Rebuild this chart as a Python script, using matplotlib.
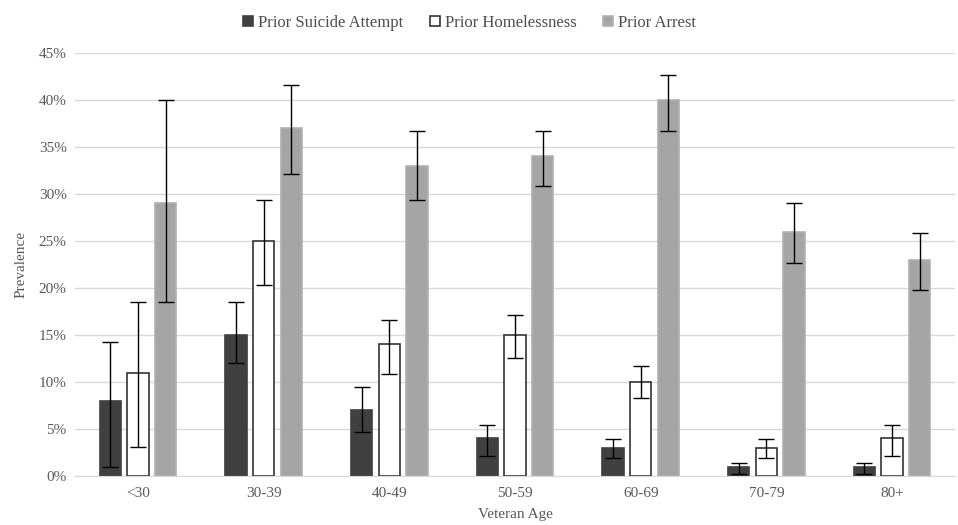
import matplotlib.pyplot as plt
import numpy as np
from matplotlib.ticker import PercentFormatter

ages = ["<30", "30-39", "40-49", "50-59", "60-69", "70-79", "80+"]

suicide = [8, 15, 7, 4, 3, 1, 1]
suicide_lo = [1.0, 12.0, 4.7, 2.1, 1.9, 0.2, 0.2]
suicide_hi = [14.3, 18.5, 9.5, 5.4, 3.9, 1.4, 1.4]

homeless = [11, 25, 14, 15, 10, 3, 4]
homeless_lo = [3.1, 20.3, 10.9, 12.6, 8.3, 1.9, 2.1]
homeless_hi = [18.5, 29.4, 16.6, 17.1, 11.7, 3.9, 5.4]

arrest = [29, 37, 33, 34, 40, 26, 23]
arrest_lo = [18.5, 32.1, 29.4, 30.8, 36.7, 22.7, 19.8]
arrest_hi = [40.0, 41.6, 36.7, 36.7, 42.7, 29.0, 25.9]

plt.rcParams["font.family"] = ["Liberation Serif", "DejaVu Serif"]
text_color = "#595959"

fig = plt.figure(figsize=(9.58, 5.25), dpi=100)
ax = fig.add_axes([75 / 958, 49 / 525, 880 / 958, 423 / 525])

x = np.arange(len(ages))
width = 0.17
step = 0.22

series = [
    ("Prior Suicide Attempt", suicide, suicide_lo, suicide_hi, "#404040", "#404040"),
    ("Prior Homelessness", homeless, homeless_lo, homeless_hi, "white", "#333333"),
    ("Prior Arrest", arrest, arrest_lo, arrest_hi, "#a5a5a5", "#b0b0b0"),
]

for i, (name, vals, lo, hi, face, edge) in enumerate(series):
    pos = x + (i - 1) * step
    vals = np.array(vals)
    err = [vals - np.array(lo), np.array(hi) - vals]
    ax.bar(pos, vals, width, color=face, edgecolor=edge, linewidth=1.2,
           label=name, zorder=2)
    ax.errorbar(pos, vals, yerr=err, fmt="none", ecolor="black",
                elinewidth=1.0, capsize=6, capthick=1.0, zorder=3)

ax.set_ylim(0, 45)
ax.set_xlim(-0.5, len(ages) - 0.5)
ax.set_yticks(np.arange(0, 46, 5))
ax.yaxis.set_major_formatter(PercentFormatter(decimals=0))
ax.set_xticks(x)
ax.set_xticklabels(ages)
ax.grid(axis="y", color="#d9d9d9", linewidth=1.0, zorder=0)
ax.set_axisbelow(True)

for side in ["top", "right", "left"]:
    ax.spines[side].set_visible(False)
ax.spines["bottom"].set_color("#d9d9d9")
ax.tick_params(axis="both", length=0, labelsize=11, colors=text_color)
ax.tick_params(axis="x", pad=8)
ax.tick_params(axis="y", pad=6)

ax.set_xlabel("Veteran Age", fontsize=11, color=text_color, labelpad=6)
ax.set_ylabel("Prevalence", fontsize=11, color=text_color, labelpad=8)

fig.legend(loc="upper center", bbox_to_anchor=(0.49, 1.0), ncol=3,
           frameon=False, fontsize=12, handlelength=0.6, handleheight=0.6,
           handletextpad=0.3, columnspacing=1.6, labelcolor="#4d4d4d")

fig.savefig("out.png", dpi=100)
